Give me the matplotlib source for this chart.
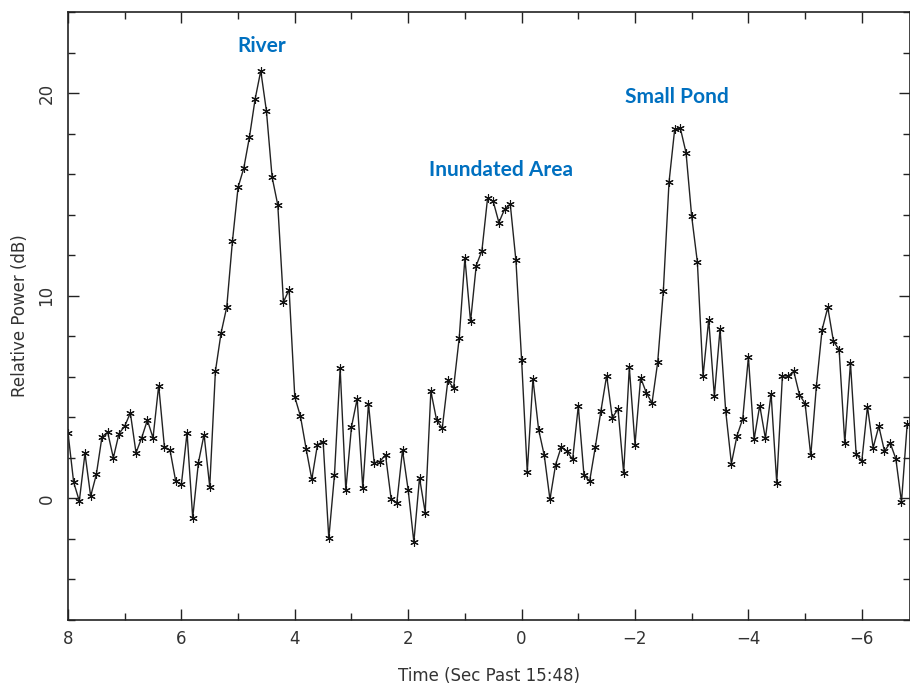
import numpy as np
import matplotlib
matplotlib.use("Agg")
import matplotlib.pyplot as plt
from matplotlib.ticker import MultipleLocator

# relative power (dB), sampled every 0.1 s starting at t = 8.1 s (first sample is off-axis)
power = [4.4,
         3.25, 0.80, -0.13, 2.22, 0.11, 1.18, 3.04, 3.27, 2.00, 3.20,
         3.56, 4.22, 2.25, 2.99, 3.86, 2.99, 5.57, 2.55, 2.38, 0.85,
         0.69, 3.24, -0.95, 1.76, 3.15, 0.58, 6.27, 8.16, 9.44, 12.68,
         15.35, 16.29, 17.82, 19.69, 21.10, 19.11, 15.85, 14.48, 9.69, 10.30,
         5.01, 4.05, 2.45, 0.94, 2.65, 2.80, -1.97, 1.16, 6.42, 0.41,
         3.53, 4.91, 0.49, 4.68, 1.76, 1.82, 2.15, -0.05, -0.21, 2.38,
         0.41, -2.15, 1.02, -0.70, 5.29, 3.88, 3.45, 5.83, 5.45, 7.92,
         11.86, 8.73, 11.49, 12.22, 14.81, 14.65, 13.61, 14.27, 14.52, 11.74,
         6.85, 1.30, 5.90, 3.40, 2.12, -0.05, 1.67, 2.55, 2.33, 1.92,
         4.55, 1.15, 0.85, 2.53, 4.33, 6.06, 3.98, 4.42, 1.26, 6.47,
         2.66, 5.95, 5.21, 4.71, 6.71, 10.25, 15.60, 18.21, 18.26, 17.06,
         13.91, 11.66, 6.03, 8.82, 5.04, 8.36, 4.30, 1.72, 3.10, 3.93,
         6.97, 2.91, 4.58, 2.96, 5.16, 0.77, 6.06, 6.03, 6.27, 5.12,
         4.68, 2.12, 5.57, 8.33, 9.42, 7.75, 7.34, 2.74, 6.68, 2.20,
         1.84, 4.52, 2.50, 3.56, 2.33, 2.74, 1.96, -0.18, 3.65]
t_start = 8.1
dt = 0.1
time = np.round(t_start - dt * np.arange(len(power)), 2)

labels = ["River", "Inundated Area", "Small Pond"]
label_x = [4.58, 0.37, -2.74]
label_y = [22.3, 16.2, 19.8]

fig = plt.figure(figsize=(9.1, 6.88), dpi=100)
ax = fig.add_axes([0.0747, 0.0988, 0.9253, 0.8838])

ax.plot(time, power, color="#222222", lw=1.0,
        marker=(6, 2, 0), markersize=6, mew=0.8, mec="#111111")

ax.set_xlim(8, -6.85)
ax.set_ylim(-6, 24)

ax.xaxis.set_major_locator(MultipleLocator(2))
ax.xaxis.set_minor_locator(MultipleLocator(1))
ax.yaxis.set_major_locator(MultipleLocator(10))
ax.yaxis.set_minor_locator(MultipleLocator(2))
ax.tick_params(which="both", direction="in", top=True, right=True,
               width=1.0, colors="#222222", labelcolor="#333333")
ax.tick_params(which="major", length=8, labelsize=12)
ax.tick_params(which="minor", length=5)
ax.tick_params(axis="x", which="major", pad=7)
ax.tick_params(axis="y", which="major", pad=9)
for lbl in ax.get_yticklabels():
    lbl.set_rotation(90)
    lbl.set_va("center")
for sp in ax.spines.values():
    sp.set_linewidth(1.2)
    sp.set_color("#222222")

ax.set_xlabel("Time (Sec Past 15:48)", fontsize=12, color="#333333", labelpad=14)
ax.set_ylabel("Relative Power (dB)", fontsize=12, color="#333333", labelpad=6)

for txt, x, y in zip(labels, label_x, label_y):
    ax.text(x, y, txt, color="#0070C0", fontsize=15, fontweight="bold",
            family=["Lato", "DejaVu Sans"], ha="center", va="center")

fig.savefig("out.png", dpi=100)
